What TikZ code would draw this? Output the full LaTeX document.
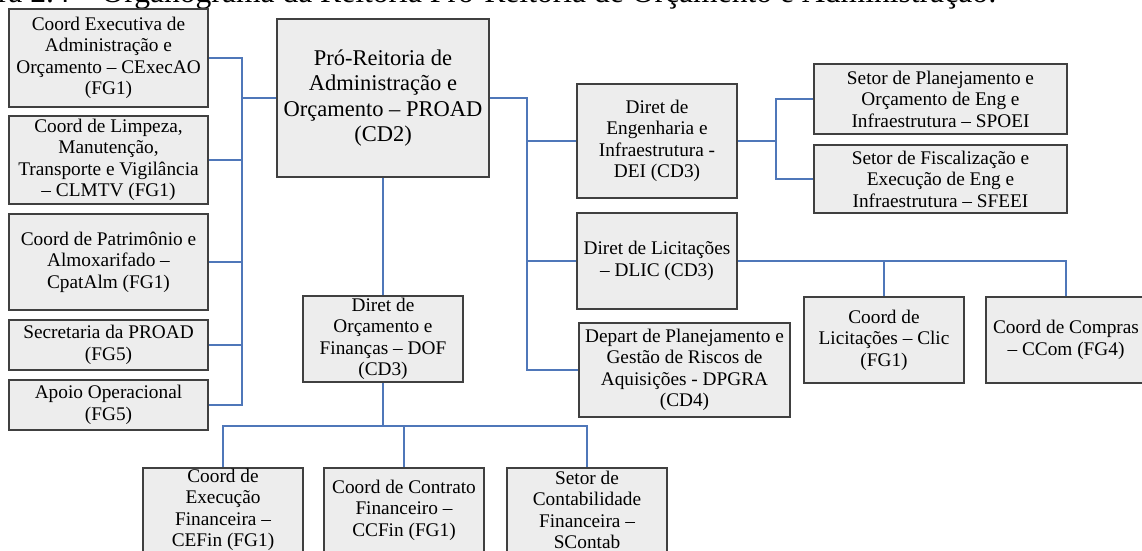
\documentclass[tikz,border=0pt]{standalone}
\usepackage{fontspec}
\setmainfont{Liberation Serif}
\definecolor{boxfill}{RGB}{237,237,237}
\definecolor{boxline}{RGB}{64,64,64}
\definecolor{conncol}{RGB}{79,119,185}
\tikzset{
  box/.style={draw=boxline, fill=boxfill, line width=1.5pt, inner sep=0pt, align=center,
    font=\fontsize{19.3}{21.5}\selectfont},
  bigbox/.style={box, font=\fontsize{22.5}{25.5}\selectfont},
  conn/.style={draw=conncol, line width=1.8pt},
}
\begin{document}
\begin{tikzpicture}[x=1pt,y=-1pt]
\useasboundingbox (0,0) rectangle (1142,550);
\clip (0,0) rectangle (1142,550);
% caption (cut off at the top)
\node[anchor=base east, inner sep=0pt, font=\fontsize{31.6}{36}\selectfont] (cap) at (997,2) {Figura 2.4 – Organograma da Reitoria Pró-Reitoria de Orçamento e Administração:};
% left column
\node[box, minimum width=199, minimum height=98] (ce) at (108.5,58) {Coord Executiva de\\Administração e\\Orçamento – CExecAO\\(FG1)};
\node[box, minimum width=199, minimum height=88] (cl) at (108.5,160) {Coord de Limpeza,\\Manutenção,\\Transporte e Vigilância\\– CLMTV (FG1)};
\node[box, minimum width=199, minimum height=96] (cp) at (108.5,262) {Coord de Patrimônio e\\Almoxarifado –\\CpatAlm (FG1)};
\node[box, minimum width=199, minimum height=50] (sec) at (108.5,345) {Secretaria da PROAD\\(FG5)};
\node[box, minimum width=199, minimum height=50] (apo) at (108.5,405) {Apoio Operacional\\(FG5)};
% centre
\node[bigbox, minimum width=212, minimum height=158] (proad) at (383,98) {Pró-Reitoria de\\Administração e\\Orçamento – PROAD\\(CD2)};
\node[box, minimum width=160, minimum height=86] (dof) at (383,339) {Diret de\\Orçamento e\\Finanças – DOF\\(CD3)};
% bottom row
\node[box, minimum width=160, minimum height=84] (cef) at (223,510) {Coord de\\Execução\\Financeira –\\CEFin (FG1)};
\node[box, minimum width=160, minimum height=84] (ccf) at (404,510) {Coord de Contrato\\Financeiro –\\CCFin (FG1)};
\node[box, minimum width=160, minimum height=84] (sct) at (587,510) {Setor de\\Contabilidade\\Financeira –\\SContab};
% right side
\node[box, minimum width=160, minimum height=114] (dei) at (657,141) {Diret de\\Engenharia e\\Infraestrutura -\\DEI (CD3)};
\node[box, minimum width=253, minimum height=70] (spoei) at (940.5,99) {Setor de Planejamento e\\Orçamento de Eng e\\Infraestrutura – SPOEI};
\node[box, minimum width=253, minimum height=68] (sfeei) at (940.5,179) {Setor de Fiscalização e\\Execução de Eng e\\Infraestrutura – SFEEI};
\node[box, minimum width=160, minimum height=96] (dlic) at (657,261) {Diret de Licitações\\– DLIC (CD3)};
\node[box, minimum width=211, minimum height=94] (dpgra) at (684.5,370) {Depart de Planejamento e\\Gestão de Riscos de\\Aquisições - DPGRA\\(CD4)};
\node[box, minimum width=160, minimum height=86] (clic) at (884,340) {Coord de\\Licitações – Clic\\(FG1)};
\node[box, minimum width=160, minimum height=86] (ccom) at (1066,340) {Coord de Compras\\– CCom (FG4)};
% junctions
\coordinate (jl) at (242,98);
\coordinate (jr) at (527,98);
\coordinate (jd) at (383,426);
\coordinate (je) at (776,141);
% connectors
\draw[conn] (ce.east) -| (jl) -- (proad.west);
\draw[conn] (cl.east) -| (jl);
\draw[conn] (cp.east) -| (jl);
\draw[conn] (sec.east) -| (jl);
\draw[conn] (apo.east) -| (jl);
\draw[conn] (proad.south) -- (dof.north);
\draw[conn] (dof.south) -- (jd);
\draw[conn] (jd) -| (cef.north);
\draw[conn] (jd) -| (ccf.north);
\draw[conn] (jd) -| (sct.north);
\draw[conn] (proad.east) -- (jr) |- (dei.west);
\draw[conn] (jr) |- (dlic.west);
\draw[conn] (jr) |- (dpgra.west);
\draw[conn] (dei.east) -- (je) |- (spoei.west);
\draw[conn] (je) |- (sfeei.west);
\draw[conn] (dlic.east) -| (clic.north);
\draw[conn] (dlic.east) -| (ccom.north);
\end{tikzpicture}
\end{document}
